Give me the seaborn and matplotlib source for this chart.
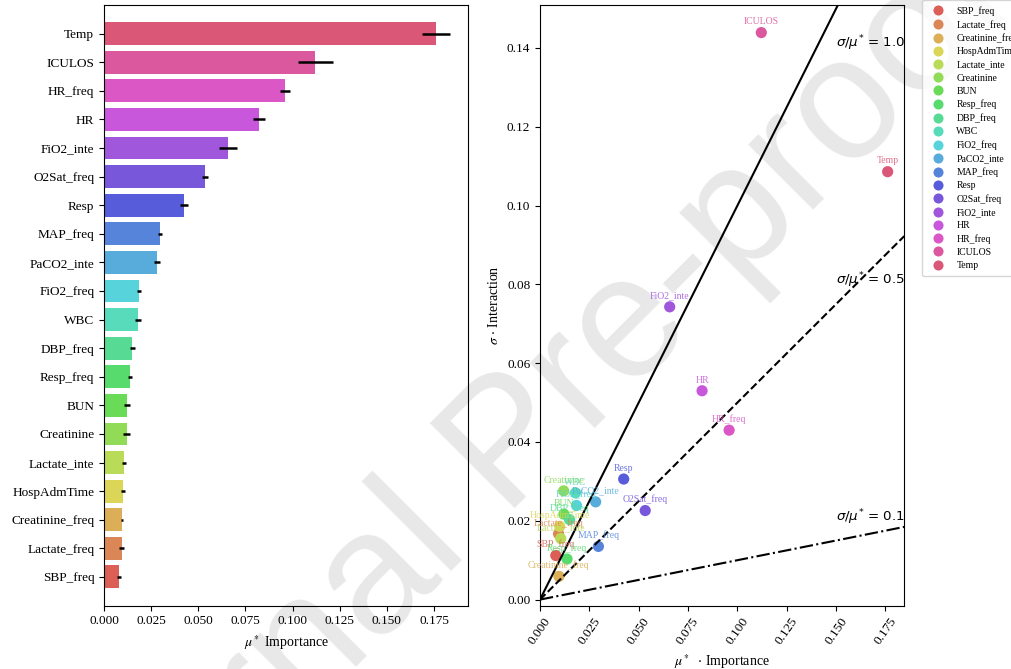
import numpy as np
import seaborn as sns
import matplotlib.pyplot as plt

# features, sorted by mu* ascending
names = ['SBP_freq', 'Lactate_freq', 'Creatinine_freq', 'HospAdmTime', 'Lactate_inte',
         'Creatinine', 'BUN', 'Resp_freq', 'DBP_freq', 'WBC', 'FiO2_freq', 'PaCO2_inte',
         'MAP_freq', 'Resp', 'O2Sat_freq', 'FiO2_inte', 'HR', 'HR_freq', 'ICULOS', 'Temp']
mu_star = [0.0080, 0.0094, 0.0096, 0.0100, 0.0105, 0.0120, 0.0121, 0.0137, 0.0150, 0.0180,
           0.0185, 0.0282, 0.0296, 0.0424, 0.0533, 0.0657, 0.0821, 0.0958, 0.1121, 0.1761]
sigma = [0.0112, 0.0167, 0.0059, 0.0186, 0.0155, 0.0276, 0.0217, 0.0103, 0.0203, 0.0271,
         0.0239, 0.0248, 0.0135, 0.0306, 0.0226, 0.0743, 0.0530, 0.0430, 0.1439, 0.1086]
mu_conf = [0.0009, 0.0012, 0.0006, 0.0011, 0.0011, 0.0017, 0.0016, 0.0009, 0.0012, 0.0016,
           0.0011, 0.0016, 0.0009, 0.0019, 0.0016, 0.0046, 0.0032, 0.0027, 0.0093, 0.0074]
ratios = [1.0, 0.5, 0.1]
ratio_styles = ['-', '--', '-.']
ratio_label_y = [0.1413, 0.0811, 0.0210]

plt.rcParams['font.family'] = ['Liberation Serif', 'DejaVu Serif']
plt.rcParams['mathtext.fontset'] = 'stix'

pal = sns.color_palette('hls', len(names))

fig = plt.figure(figsize=(10.11, 6.69), dpi=100)
# journal watermark
fig.text(0.505, 0.33, 'Journal Pre-proof', rotation=45, fontsize=125, color='#e8e8e8',
         ha='center', va='center', family='Liberation Sans', zorder=-1)

ax1 = fig.add_axes([0.1029, 0.0949, 0.36, 0.8976])
ax2 = fig.add_axes([0.5341, 0.0949, 0.3603, 0.8976])
for ax in (ax1, ax2):
    ax.set_facecolor('none')

# left: mu* bars, largest on top
names_desc = names[::-1]
mu_desc = mu_star[::-1]
conf_desc = mu_conf[::-1]
sns.barplot(x=mu_desc, y=names_desc, hue=names_desc, palette=pal[::-1], legend=False,
            saturation=1, width=0.8, ax=ax1)
ax1.errorbar(mu_desc, np.arange(len(names)), xerr=conf_desc, fmt='none', ecolor='black',
             elinewidth=1.8, capsize=0)
ax1.set_ylim(len(names), -1)
ax1.set_xlim(0, 0.193)
ax1.set_xticks(np.arange(0, 0.176, 0.025))
ax1.set_xlabel(r'$\mu^*$ Importance', fontsize=10)
ax1.set_ylabel('')
ax1.tick_params(labelsize=9.5)

# right: sigma vs mu*
sns.scatterplot(x=mu_star, y=sigma, hue=names, palette=pal, s=65, linewidth=0, ax=ax2)
for n, x, y, c in zip(names, mu_star, sigma, pal):
    ax2.annotate(n, (x, y), xytext=(0, 4.5), textcoords='offset points', ha='center',
                 va='bottom', fontsize=7, color=c, alpha=0.85)

xmax = 0.1845
for r, ls, ly in zip(ratios, ratio_styles, ratio_label_y):
    ax2.plot([0, xmax], [0, r * xmax], color='black', linestyle=ls, linewidth=1.5)
    ax2.text(0.1499, ly, r'$\sigma/\mu^{*}$ = %.1f' % r, fontsize=9.6, family='DejaVu Sans',
             math_fontfamily='dejavusans', ha='left', va='center')
ax2.set_xlim(0, xmax)
ax2.set_ylim(-0.0015, 0.1509)
ax2.set_xticks(np.arange(0, 0.176, 0.025))
ax2.set_xlabel(r'$\mu^*$  $\cdot$ Importance', fontsize=10)
ax2.set_ylabel(r'$\sigma$ $\cdot$ Interaction', fontsize=10)
ax2.tick_params(labelsize=9.5)
plt.setp(ax2.get_xticklabels(), rotation=55)
ax2.legend(loc='upper left', bbox_to_anchor=(1.05, 1.008), borderaxespad=0, fontsize=7,
           markerscale=0.9, labelspacing=0.42, handletextpad=0.9, borderpad=0.6)

fig.savefig('out.png', dpi=100)
